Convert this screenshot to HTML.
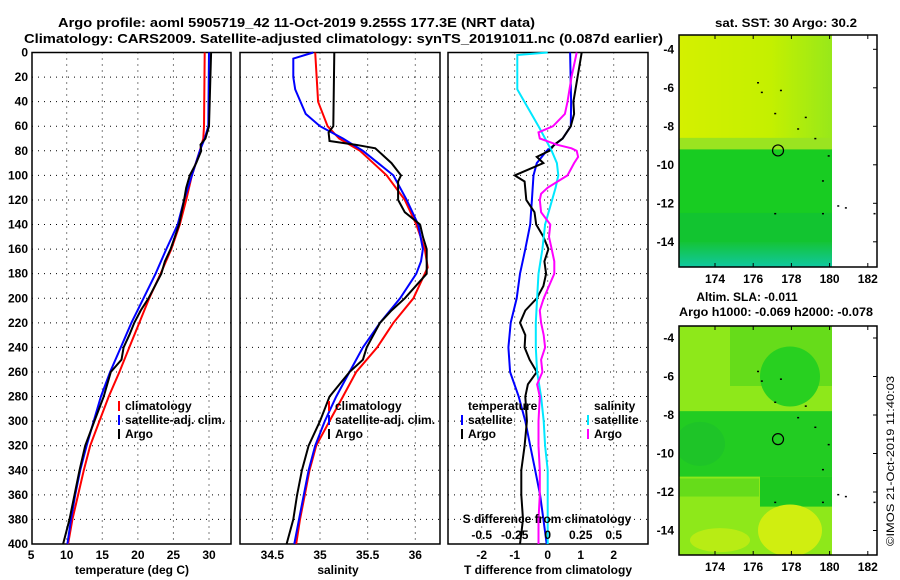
<!DOCTYPE html>
<html><head><meta charset="utf-8"><style>
html,body{margin:0;padding:0;background:#fff;}
svg{display:block;font-family:"Liberation Sans",Arial,sans-serif;font-weight:bold;}
</style></head><body>
<svg id="fig" width="900" height="580" viewBox="0 0 900 580" xmlns="http://www.w3.org/2000/svg">
<text x="58" y="27" font-size="13" textLength="477" lengthAdjust="spacingAndGlyphs">Argo profile: aoml 5905719_42 11-Oct-2019 9.255S 177.3E (NRT data)</text>
<text x="24" y="43" font-size="13" textLength="639" lengthAdjust="spacingAndGlyphs">Climatology: CARS2009. Satellite-adjusted climatology: synTS_20191011.nc (0.087d earlier)</text>
<text x="715" y="27" font-size="12" textLength="142" lengthAdjust="spacingAndGlyphs">sat. SST: 30 Argo: 30.2</text>
<g id="panels"></g>
<g id="maps"></g>
<text x="747" y="301" font-size="12" text-anchor="middle">Altim. SLA: -0.011</text>
<text x="776" y="316" font-size="12" text-anchor="middle" textLength="194" lengthAdjust="spacingAndGlyphs">Argo h1000: -0.069 h2000: -0.078</text>
<text x="0" y="0" font-size="11" font-weight="normal" transform="translate(894,546) rotate(-90)" textLength="170" lengthAdjust="spacingAndGlyphs">©IMOS 21-Oct-2019 11:40:03</text>
</svg>
<script>
// ---- data ----
const depthTicks = [0,20,40,60,80,100,120,140,160,180,200,220,240,260,280,300,320,340,360,380,400];
const tempTicks = [5,10,15,20,25,30];
const salTicks = [34.5,35,35.5,36];
const tdiffTicks = [-2,-1,0,1,2];
const sdiffTicks = [-0.5,-0.25,0,0.25,0.5];
const sdiffTickLabels = ["-0.5","-0.25","0","0.25","0.5"];

const tClimDepth = [0,60,70,80,100,120,140,160,180,200,220,240,260,280,300,320,340,360,380,400];
const tClimVal   = [29.4,29.3,29.2,28.7,27.6,26.8,25.9,24.7,23.2,21.6,20.2,18.8,17.4,15.9,14.6,13.3,12.4,11.6,10.8,10.2];
const tSatDepth  = [0,60,70,80,100,120,140,160,180,200,220,240,260,280,300,320,340,360,380,400];
const tSatVal    = [30.0,29.9,29.4,28.7,27.6,26.5,25.6,24.0,22.5,20.8,19.1,17.6,16.1,14.8,13.8,12.8,11.9,11.2,10.6,10.1];
const tArgoDepth = [0,60,70,75,80,90,100,110,120,140,160,170,180,200,210,220,230,240,250,260,280,300,320,340,360,380,400];
const tArgoVal   = [30.3,30.0,29.5,28.8,28.9,28.2,27.3,26.8,26.5,25.8,24.6,23.8,23.3,21.5,20.4,19.5,18.8,18.0,17.7,16.2,15.2,13.9,12.6,11.8,11.1,10.4,9.5];

const sClimDepth = [0,40,60,70,80,100,120,140,160,175,180,200,220,240,260,280,300,320,340,360,380,400];
const sClimVal   = [34.95,34.98,35.08,35.2,35.42,35.70,35.89,36.01,36.10,36.13,36.10,35.98,35.77,35.60,35.38,35.24,35.10,34.96,34.89,34.84,34.79,34.75];
const sSatDepth  = [0,5,20,30,50,60,70,80,100,120,140,160,170,180,200,220,240,260,280,300,320,340,360,380,400];
const sSatVal    = [34.93,34.72,34.72,34.74,34.85,35.0,35.24,35.45,35.77,35.91,36.03,36.08,36.06,36.01,35.84,35.63,35.45,35.31,35.17,35.05,34.95,34.88,34.83,34.78,34.73];
const sArgoDepth = [0,60,65,72,75,78,90,100,105,120,130,140,150,160,180,200,210,220,240,250,260,280,290,300,320,340,360,380,400];
const sArgoVal   = [35.15,35.14,35.09,35.10,35.37,35.58,35.75,35.85,35.82,35.82,35.89,36.05,36.08,36.12,36.12,35.89,35.75,35.63,35.49,35.45,35.31,35.10,35.05,35.0,34.88,34.81,34.76,34.72,34.65];

const dTSatDepth  = [0,40,60,70,80,90,100,120,140,160,180,200,220,240,260,280,300,320,340,360,380,400];
const dTSatVal    = [0.68,0.71,0.70,0.45,-0.03,-0.33,-0.43,-0.48,-0.53,-0.68,-0.84,-0.94,-1.12,-1.19,-1.14,-0.88,-0.68,-0.53,-0.38,-0.23,-0.13,-0.03];
const dTArgoDepth = [0,40,50,60,70,75,80,85,90,100,105,120,130,140,150,160,170,180,190,200,210,220,230,240,250,260,270,280,300,320,340,360,380,400];
const dTArgoVal   = [1.03,0.78,0.80,0.70,0.45,0.20,0.05,-0.33,-0.13,-1.0,-0.7,-0.65,-0.4,-0.35,-0.13,0.02,-0.1,-0.05,-0.13,-0.33,-0.68,-0.84,-0.68,-0.7,-0.55,-0.33,-0.6,-0.68,-0.63,-0.7,-0.8,-0.8,-0.75,-0.84];
const dSSatDepth  = [0,2,30,60,80,90,100,110,140,160,180,200,220,240,260,280,300,320,340,360,380,400];
const dSSatVal    = [0.0,-0.23,-0.23,-0.07,0.03,0.07,0.08,0.06,-0.02,-0.04,-0.07,-0.08,-0.09,-0.09,-0.08,-0.05,-0.03,-0.02,0.0,0.0,0.0,0.0];
const dSArgoDepth = [0,20,40,50,60,65,70,75,78,80,85,90,100,110,115,120,130,140,150,160,170,180,190,200,210,220,230,240,250,260,270,280,300,320,340,360,380,400];
const dSArgoVal   = [0.22,0.18,0.15,0.13,0.04,-0.07,-0.06,0.07,0.18,0.22,0.23,0.2,0.15,0.0,-0.05,-0.06,-0.05,0.02,0.01,0.03,0.05,0.05,0.01,-0.03,-0.06,-0.05,-0.03,-0.02,-0.05,-0.04,-0.08,-0.06,-0.07,-0.07,-0.06,-0.06,-0.07,-0.07];

const lonTicks = [174,176,178,180,182];
const latTicks = [-4,-6,-8,-10,-12,-14];
const argoLon = 177.3, argoLat = -9.255;

// ---- helpers ----
const NS="http://www.w3.org/2000/svg";
function mk(tag, attrs, parent){const e=document.createElementNS(NS,tag);for(const k in attrs)e.setAttribute(k,attrs[k]);parent.appendChild(e);return e;}
const Y0=52.5, Y1=544;
const yD = d => Y0 + d*(Y1-Y0)/400;
const xT = v => 66.7 + (v-10)*7.115;
const xS = v => 320 + (v-35)*95.3;
const xDT = v => 547.7 + v*33;
const xDS = v => 547.7 + v*132;
const P = document.getElementById('panels');

function frame(x0,x1,name,xticks,xfn,labels){
  const g=mk('g',{},P);
  
  
  depthTicks.forEach(d=>{ if(d>0&&d<400){const l=mk('line',{x1:x0,x2:x1,y1:yD(d),y2:yD(d),stroke:'#000','stroke-width':1,'stroke-dasharray':'1,5'},g);
    
    }});
  xticks.forEach((v,i)=>{const x=xfn(v); if(x>x0+1&&x<x1-1){const l=mk('line',{x1:x,x2:x,y1:Y0,y2:Y1,stroke:'#000','stroke-width':1,'stroke-dasharray':'1,5'},g);
    
    }
    if(labels){const t=mk('text',{x:x,y:559,'font-size':12,'text-anchor':'middle'},g);t.textContent=labels[i];
    
    }});
  const r=mk('rect',{x:x0,y:Y0,width:x1-x0,height:Y1-Y0,fill:'none',stroke:'#000','stroke-width':1.5},g);
  
  
  return g;
}
function series(g,depths,vals,xfn,color,name){
  const pts=depths.map((d,i)=>xfn(vals[i]).toFixed(1)+','+yD(d).toFixed(1)).join(' ');
  const pl=mk('polyline',{points:pts,fill:'none',stroke:color,'stroke-width':2},g);
  
  
}
function txt(g,x,y,s,size,name,anchor){
  const t=mk('text',{x:x,y:y,'font-size':size||12,'text-anchor':anchor||'start'},g);t.textContent=s;
  
  
  return t;
}
function legend(g,x,y,color,label,name){
  const l=mk('line',{x1:x,x2:x,y1:y-9,y2:y+1,stroke:color,'stroke-width':2},g);
  
  
  txt(g,x+6,y,label,12,name);
}

// temperature panel
const g1=frame(32,231,'temperature-panel',tempTicks,xT,tempTicks.map(String));
depthTicks.forEach(d=>txt(g1,28,yD(d)+4,String(d),12,'depth-tick-label','end'));
series(g1,tClimDepth,tClimVal,xT,'#ff0000','temperature-climatology-line');
series(g1,tSatDepth,tSatVal,xT,'#0000ff','temperature-satellite-line');
series(g1,tArgoDepth,tArgoVal,xT,'#000000','temperature-argo-line');
txt(g1,132,574,'temperature (deg C)',12,'temperature-axis-title','middle');
legend(g1,119,410,'#ff0000','climatology','legend-climatology');
legend(g1,119,424,'#0000ff','satellite-adj. clim.','legend-satellite');
legend(g1,119,438,'#000000','Argo','legend-argo');

// salinity panel
const g2=frame(240,440,'salinity-panel',salTicks,xS,salTicks.map(String));
series(g2,sClimDepth,sClimVal,xS,'#ff0000','salinity-climatology-line');
series(g2,sSatDepth,sSatVal,xS,'#0000ff','salinity-satellite-line');
series(g2,sArgoDepth,sArgoVal,xS,'#000000','salinity-argo-line');
txt(g2,338,574,'salinity',12,'salinity-axis-title','middle');
legend(g2,329,410,'#ff0000','climatology','legend-climatology');
legend(g2,329,424,'#0000ff','satellite-adj. clim.','legend-satellite');
legend(g2,329,438,'#000000','Argo','legend-argo');

// difference panel
const g3=frame(448,648,'difference-panel',tdiffTicks,xDT,tdiffTicks.map(String));
series(g3,dTSatDepth,dTSatVal,xDT,'#0000ff','tdiff-satellite-line');
series(g3,dTArgoDepth,dTArgoVal,xDT,'#000000','tdiff-argo-line');
series(g3,dSSatDepth,dSSatVal,xDS,'#00e8ff','sdiff-satellite-line');
series(g3,dSArgoDepth,dSArgoVal,xDS,'#ff00ff','sdiff-argo-line');
txt(g3,547,523,'S difference from climatology',12,'sdiff-axis-title','middle');
sdiffTicks.forEach((v,i)=>txt(g3,xDS(v),539,sdiffTickLabels[i],12,'sdiff-tick-label','middle'));
txt(g3,548,574,'T difference from climatology',12,'tdiff-axis-title','middle');
txt(g3,468,410,'temperature',12,'legend-temperature-heading');
legend(g3,462,424,'#0000ff','satellite','legend-t-satellite');
legend(g3,462,438,'#000000','Argo','legend-t-argo');
txt(g3,594,410,'salinity',12,'legend-salinity-heading');
legend(g3,588,424,'#00e8ff','satellite','legend-s-satellite');
legend(g3,588,438,'#ff00ff','Argo','legend-s-argo');

// ---- maps ----
const M=document.getElementById('maps');
const MX0=679, MX1=877, DX1=832;
const xLon = v => 715 + (v-174)*19.1;
function map(top,bottom,latY0,name,fillFn){
  const g=mk('g',{},M);
  
  
  const yLat = v => latY0 + (-4 - v)*19.25;
  const cp=mk('clipPath',{id:name+'-clip'},g);
  mk('rect',{x:MX0,y:top,width:DX1-MX0,height:bottom-top},cp);
  const f=mk('g',{'clip-path':'url(#'+name+'-clip)'},g);
  fillFn(f,top,bottom,yLat);
  const fr=mk('rect',{x:MX0,y:top,width:MX1-MX0,height:bottom-top,fill:'none',stroke:'#000','stroke-width':1.5},g);
  
  
  lonTicks.forEach(v=>{const x=xLon(v);
    mk('line',{x1:x,x2:x,y1:top,y2:top+4,stroke:'#000'},g);
    mk('line',{x1:x,x2:x,y1:bottom,y2:bottom-4,stroke:'#000'},g);
    txt(g,x,bottom+16,String(v),12,'lon-tick-label','middle');});
  latTicks.forEach(v=>{const y=yLat(v);
    mk('line',{x1:MX1,x2:MX1-4,y1:y,y2:y,stroke:'#000'},g);
    txt(g,674,y+4,String(v),12,'lat-tick-label','end');});
  const c=mk('circle',{cx:xLon(argoLon),cy:yLat(argoLat),r:5.5,fill:'none',stroke:'#000','stroke-width':1.2},g);
  
  
  [[176.2,-5.7],[176.4,-6.2],[177.4,-6.1],[177.1,-7.3],[178.7,-7.5],[178.3,-8.1],[179.2,-8.6],[179.9,-9.5],[179.6,-10.8],[177.1,-12.5],[179.6,-12.5],[180.4,-12.1],[180.8,-12.2],[182.3,-12.5]].forEach(p=>{
    mk('rect',{x:xLon(p[0]),y:yLat(p[1]),width:2,height:1.5,fill:'#000'},g);});
}
map(35,267,49.3,'sst-map',(f,top,bot,yLat)=>{
  const gr=mk('linearGradient',{id:'sstTop',x1:0,y1:0,x2:1,y2:0},f);
  mk('stop',{offset:'0','stop-color':'#d4f000'},gr);mk('stop',{offset:'0.6','stop-color':'#c4f000'},gr);mk('stop',{offset:'1','stop-color':'#98e81a'},gr);
  mk('rect',{x:679,y:top,width:153,height:110,fill:'url(#sstTop)'},f);
  mk('rect',{x:679,y:yLat(-8.6),width:153,height:20,fill:'#9ae420'},f);
  mk('rect',{x:679,y:yLat(-9.2),width:153,height:bot-yLat(-9.2),fill:'#18cc22'},f);
  mk('rect',{x:679,y:yLat(-12.5),width:153,height:40,fill:'#12c430'},f);
  const g2=mk('linearGradient',{id:'sstBot',x1:0,y1:0,x2:0,y2:1},f);
  mk('stop',{offset:'0','stop-color':'#14c436'},g2);mk('stop',{offset:'1','stop-color':'#10c8a0'},g2);
  mk('rect',{x:679,y:yLat(-14),width:153,height:bot-yLat(-14),fill:'url(#sstBot)'},f);
});
map(326,555,338,'sla-map',(f,top,bot,yLat)=>{
  mk('rect',{x:679,y:top,width:153,height:bot-top,fill:'#8ee81a'},f);
  mk('rect',{x:730,y:top,width:102,height:60,fill:'#66dc1a'},f);
  mk('ellipse',{cx:790,cy:yLat(-6),rx:30,ry:30,fill:'#28d020'},f);
  mk('rect',{x:679,y:yLat(-7.8),width:153,height:yLat(-11.2)-yLat(-7.8),fill:'#22cc22'},f);
  mk('rect',{x:760,y:yLat(-11.2),width:72,height:30,fill:'#1cc820'},f);
  mk('ellipse',{cx:700,cy:yLat(-9.5),rx:25,ry:22,fill:'#1ec428'},f);
  mk('rect',{x:679,y:yLat(-11.3),width:80,height:18,fill:'#66dc1a'},f);
  mk('ellipse',{cx:790,cy:yLat(-14),rx:32,ry:26,fill:'#d0ee10'},f);
  mk('ellipse',{cx:720,cy:yLat(-14.5),rx:30,ry:12,fill:'#b8ec14'},f);
});
</script>
</body></html>
